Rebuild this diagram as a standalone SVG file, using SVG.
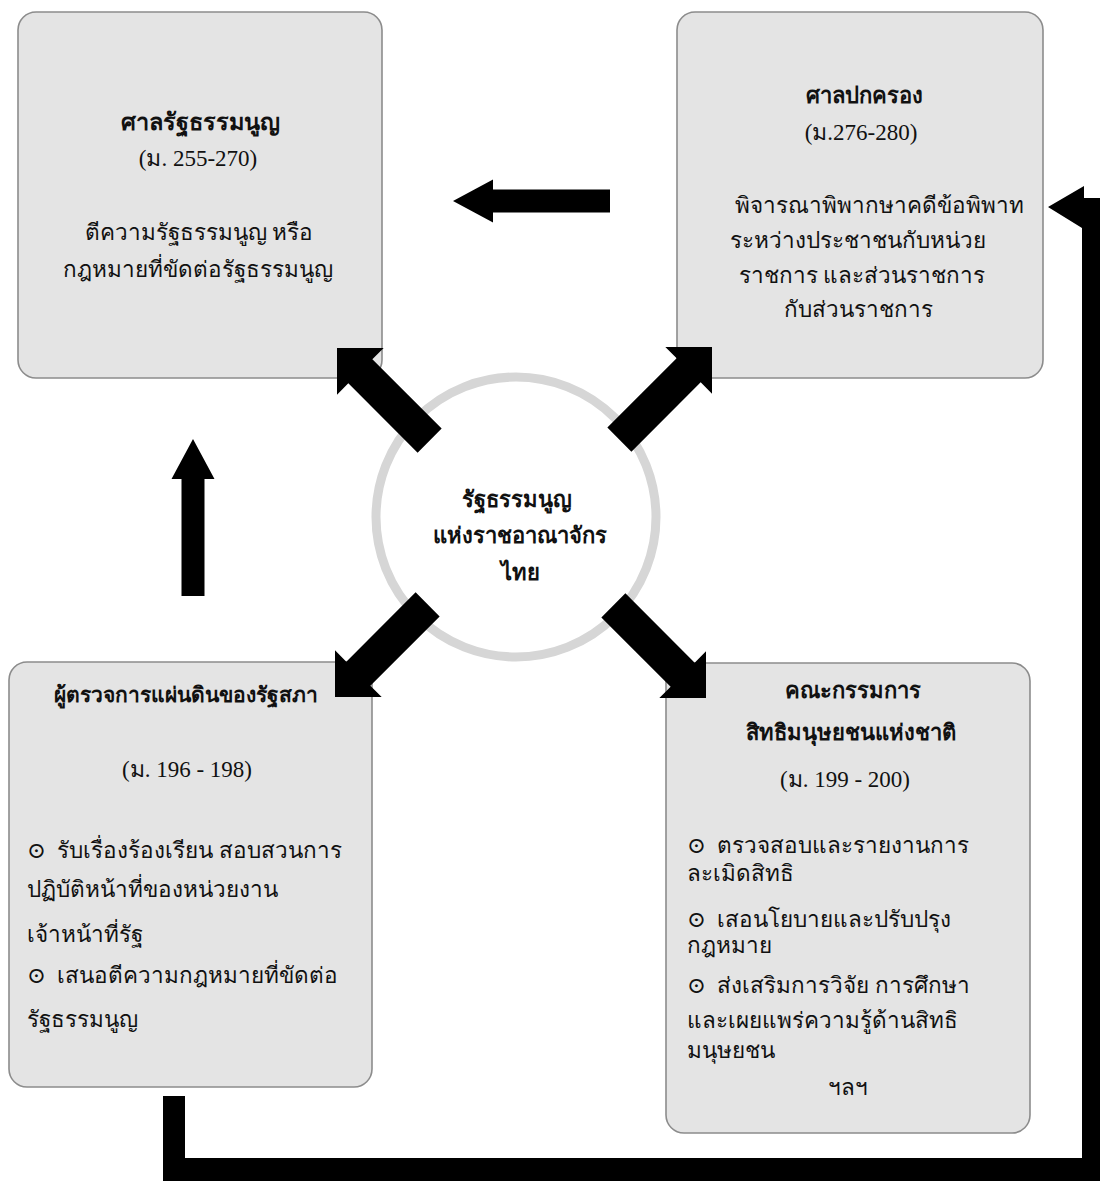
<svg xmlns="http://www.w3.org/2000/svg" width="1103" height="1181" viewBox="0 0 1103 1181">
<style>
.box{fill:#e4e4e4;stroke:#8c8c8c;stroke-width:1.6}
.t{font-family:"Liberation Serif","DejaVu Serif",serif;font-size:22.5px;fill:#111;white-space:pre}
.b{font-weight:bold;font-size:22px}
.n{font-size:23px}
.c{text-anchor:middle}
.ar{fill:#000}
</style>
<defs>
<path id="big" d="M0,0 L-33,-33 L-33,-17 L-131,-17 L-131,17 L-33,17 L-33,33 Z"/>
<path id="small" d="M0,0 L-40,-21.5 L-40,-11.5 L-157,-11.5 L-157,11.5 L-40,11.5 L-40,21.5 Z"/>
</defs>
<rect width="1103" height="1181" fill="#fff"/>
<g id="node-court-const">
<rect class="box" x="18" y="12" width="364" height="366" rx="18"/>
<text class="t b c" x="200" y="130" style="font-size:23.5px">ศาลรัฐธรรมนูญ</text>
<text class="t n c" x="198" y="166">(ม. 255-270)</text>
<text class="t c" x="199" y="240">ตีความรัฐธรรมนูญ หรือ</text>
<text class="t c" x="198" y="277">กฎหมายที่ขัดต่อรัฐธรรมนูญ</text>
</g>
<g id="node-admin-court">
<rect class="box" x="677" y="12" width="366" height="366" rx="18"/>
<text class="t b c" x="864" y="103">ศาลปกครอง</text>
<text class="t n c" x="861" y="140">(ม.276-280)</text>
<text class="t c" x="879" y="213">พิจารณาพิพากษาคดีข้อพิพาท</text>
<text class="t c" x="858" y="248">ระหว่างประชาชนกับหน่วย</text>
<text class="t c" x="862" y="283">ราชการ และส่วนราชการ</text>
<text class="t c" x="858" y="317">กับส่วนราชการ</text>
</g>
<g id="node-ombudsman">
<rect class="box" x="9" y="662" width="363" height="425" rx="18"/>
<text class="t b c" x="186" y="702" style="font-size:21px">ผู้ตรวจการแผ่นดินของรัฐสภา</text>
<text class="t n c" x="187" y="777">(ม. 196 - 198)</text>
<text class="t" x="27" y="858">⊙  รับเรื่องร้องเรียน สอบสวนการ</text>
<text class="t" x="27" y="897">ปฏิบัติหน้าที่ของหน่วยงาน</text>
<text class="t" x="27" y="942">เจ้าหน้าที่รัฐ</text>
<text class="t" x="27" y="983">⊙  เสนอตีความกฎหมายที่ขัดต่อ</text>
<text class="t" x="27" y="1027">รัฐธรรมนูญ</text>
</g>
<g id="node-nhrc">
<rect class="box" x="666" y="663" width="364" height="470" rx="18"/>
<text class="t b c" x="853" y="698">คณะกรรมการ</text>
<text class="t b c" x="851" y="740">สิทธิมนุษยชนแห่งชาติ</text>
<text class="t n c" x="845" y="787">(ม. 199 - 200)</text>
<text class="t" x="687" y="853">⊙  ตรวจสอบและรายงานการ</text>
<text class="t" x="687" y="881">ละเมิดสิทธิ</text>
<text class="t" x="687" y="927">⊙  เสอนโยบายและปรับปรุง</text>
<text class="t" x="687" y="953">กฎหมาย</text>
<text class="t" x="687" y="993">⊙  ส่งเสริมการวิจัย การศึกษา</text>
<text class="t" x="687" y="1028">และเผยแพร่ความรู้ด้านสิทธิ</text>
<text class="t" x="687" y="1058">มนุษยชน</text>
<text class="t c" x="848" y="1095">ฯลฯ</text>
</g>
<g id="node-constitution">
<circle cx="516" cy="517" r="140" fill="#fff" stroke="#d6d6d6" stroke-width="9"/>
<text class="t b c" x="517" y="507">รัฐธรรมนูญ</text>
<text class="t b c" x="520" y="543">แห่งราชอาณาจักร</text>
<text class="t b c" x="520" y="580">ไทย</text>
</g>
<g id="connectors" class="ar">
<use href="#big" transform="translate(337,348) rotate(225)"/>
<use href="#big" transform="translate(712,347) rotate(-45)"/>
<use href="#big" transform="translate(335,697) rotate(135)"/>
<use href="#big" transform="translate(706,698) rotate(45)"/>
<use href="#small" transform="translate(453,201) rotate(180)"/>
<use href="#small" transform="translate(193,439) rotate(-90)"/>
<path d="M1048,207 L1084,186 L1084,198 L1100,198 L1100,1181 L163,1181 L163,1096 L185,1096 L185,1158 L1082,1158 L1082,228 Z"/>
</g>
</svg>
